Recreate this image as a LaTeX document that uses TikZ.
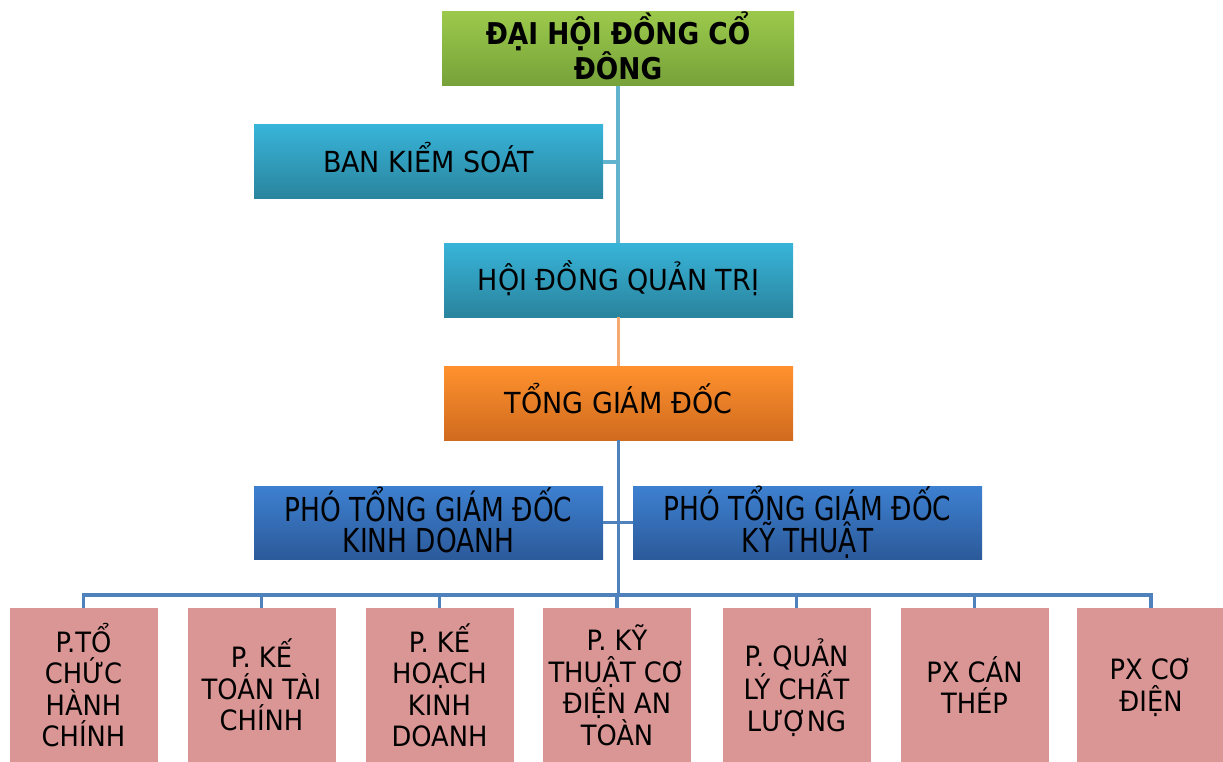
\documentclass[tikz,border=0pt]{standalone}
\usepackage{fontspec}
\setmainfont{DejaVu Sans}
\newfontfamily\topfont[FakeStretch=0.88]{DejaVu Sans}
\newfontfamily\midfont[FakeStretch=0.93]{DejaVu Sans}
\newfontfamily\phofont[FakeStretch=0.80]{DejaVu Sans}
\newfontfamily\lowfont[FakeStretch=0.92]{DejaVu Sans}
\definecolor{gtop}{HTML}{9CC94B}
\definecolor{gbot}{HTML}{76A23A}
\definecolor{ctop}{HTML}{38B4D9}
\definecolor{cbot}{HTML}{2A849D}
\definecolor{otop}{HTML}{FF922E}
\definecolor{obot}{HTML}{D06A1E}
\definecolor{btop}{HTML}{3D80D0}
\definecolor{bbot}{HTML}{2C5A9A}
\definecolor{pinkbox}{HTML}{D99694}
\definecolor{lcyan}{HTML}{62B3CE}
\definecolor{lorange}{HTML}{F7A972}
\definecolor{lblue}{HTML}{4F81BD}
\tikzset{
  box/.style={rectangle, inner sep=0pt, align=center, text=black},
  greenbox/.style={box, top color=gtop, bottom color=gbot, minimum width=352pt, minimum height=73pt,
     text depth=6pt, font=\topfont\bfseries\fontsize{30}{30}\selectfont},
  cyanbox/.style={box, top color=ctop, bottom color=cbot, minimum width=349pt, minimum height=74pt,
     text height=27pt, text depth=6pt, font=\midfont\fontsize{29}{30}\selectfont},
  orangebox/.style={box, top color=otop, bottom color=obot, minimum width=349pt, minimum height=74pt,
     text height=27pt, text depth=6pt, font=\midfont\fontsize{29}{30}\selectfont},
  bluebox/.style={box, top color=btop, bottom color=bbot, minimum width=349pt, minimum height=73pt,
     text depth=6pt, font=\phofont\fontsize{33}{31}\selectfont},
  lowbox/.style={box, fill=pinkbox, minimum width=148pt, minimum height=154pt,
     text depth=0pt, font=\lowfont\fontsize{28}{31.5}\selectfont},
  cyanline/.style={draw=lcyan, line width=3.5pt},
  orangeline/.style={draw=lorange, line width=3.5pt},
  blueline/.style={draw=lblue, line width=3.5pt},
}
\begin{document}
\begin{tikzpicture}[x=1pt,y=-1pt]
\useasboundingbox (0,0) rectangle (1223,762);
\node[greenbox] (dh) at (618,48.5) {ĐẠI HỘI ĐỒNG CỔ\\ĐÔNG};
\node[cyanbox] (bks) at (428.5,162) {BAN KIỂM SOÁT};
\node[cyanbox] (hd) at (618.5,280) {HỘI ĐỒNG QUẢN TRỊ};
\node[orangebox] (tgd) at (618.5,403) {TỔNG GIÁM ĐỐC};
\node[bluebox] (pkd) at (428.5,522.5) {PHÓ TỔNG GIÁM ĐỐC\\KINH DOANH};
\node[bluebox] (pkt) at (807.5,522.5) {PHÓ TỔNG GIÁM ĐỐC\\KỸ THUẬT};
\node[lowbox] (b1) at (83.5,685) {P.TỔ\\CHỨC\\HÀNH\\CHÍNH};
\node[lowbox] (b2) at (261.5,685) {P. KẾ\\TOÁN TÀI\\CHÍNH};
\node[lowbox] (b3) at (439.5,685) {P. KẾ\\HOẠCH\\KINH\\DOANH};
\node[lowbox] (b4) at (617,685) {P. KỸ\\THUẬT CƠ\\ĐIỆN AN\\TOÀN};
\node[lowbox] (b5) at (796.5,685) {P. QUẢN\\LÝ CHẤT\\LƯỢNG};
\node[lowbox] (b6) at (974.5,685) {PX CÁN\\THÉP};
\node[lowbox] (b7) at (1151,685) {PX CƠ\\ĐIỆN};
\coordinate (bus) at (618,595);
% connectors
\draw[cyanline] (dh.south) -- (dh.south |- hd.north);
\draw[cyanline] (bks.east) -- (bks.east -| dh.south);
\draw[orangeline] (hd.south) -- (tgd.north);
\draw[blueline] (tgd.south) -- (tgd.south |- bus);
\draw[blueline] (pkd.east) -- (pkt.west);
\draw[blueline] (b1.north) -- (b1.north |- bus) -- (b7.north |- bus) -- (b7.north);
\foreach \n in {b2,b3,b4,b5,b6}{
  \draw[blueline] (\n.north |- bus) -- (\n.north);
}
\end{tikzpicture}
\end{document}
